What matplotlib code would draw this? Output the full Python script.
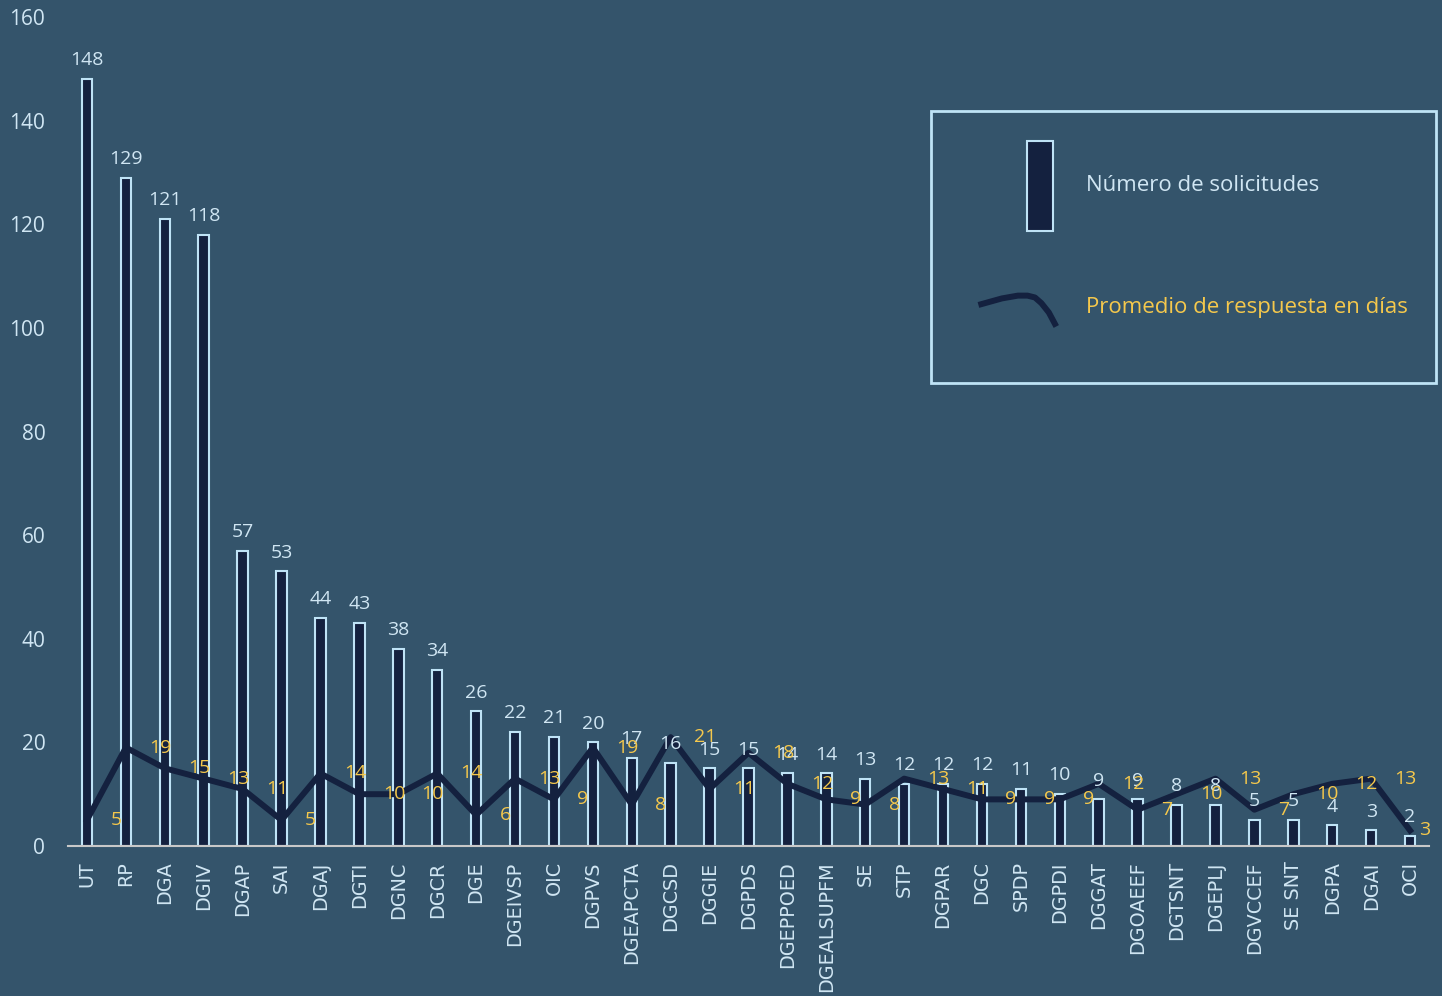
import numpy as np
import matplotlib
matplotlib.use('Agg')
import matplotlib.pyplot as plt
from matplotlib.legend_handler import HandlerBase
from matplotlib.patches import Rectangle
from matplotlib.lines import Line2D

categories = ['UT', 'RP', 'DGA', 'DGIV', 'DGAP', 'SAI', 'DGAJ', 'DGTI', 'DGNC', 'DGCR',
              'DGE', 'DGEIVSP', 'OIC', 'DGPVS', 'DGEAPCTA', 'DGCSD', 'DGGIE', 'DGPDS',
              'DGEPPOED', 'DGEALSUPFM', 'SE', 'STP', 'DGPAR', 'DGC', 'SPDP', 'DGPDI',
              'DGGAT', 'DGOAEEF', 'DGTSNT', 'DGEPLJ', 'DGVCCEF', 'SE SNT', 'DGPA', 'DGAI', 'OCI']
solicitudes = [148, 129, 121, 118, 57, 53, 44, 43, 38, 34, 26, 22, 21, 20, 17, 16, 15, 15,
               14, 14, 13, 12, 12, 12, 11, 10, 9, 9, 8, 8, 5, 5, 4, 3, 2]
promedio_dias = [5, 19, 15, 13, 11, 5, 14, 10, 10, 14, 6, 13, 9, 19, 8, 21, 11, 18,
                 12, 9, 8, 13, 11, 9, 9, 9, 12, 7, 10, 13, 7, 10, 12, 13, 3]
yticks = [0, 20, 40, 60, 80, 100, 120, 140, 160]
legend_labels = ['Número de solicitudes', 'Promedio de respuesta en días']

BG = '#34546b'
NAVY = '#14213f'
EDGE = '#bfe3f6'
TXT = '#d0e6f3'
YEL = '#f5c84c'
AXIS = '#c8c8c8'
FONT = 'Open Sans'

n = len(categories)
x = np.arange(n)

fig = plt.figure(figsize=(14.42, 9.96), dpi=100, facecolor=BG)
ax = fig.add_axes([67.5 / 1442, 150 / 996, 1362 / 1442, 829 / 996])
ax.set_facecolor(BG)

ax.bar(x, solicitudes, width=0.27, color=NAVY, edgecolor=EDGE, linewidth=1.5, zorder=2)
ax.plot(x, promedio_dias, color=NAVY, lw=4.3, zorder=3, solid_joinstyle='round')

ax.set_xlim(-0.5, n - 0.5)
ax.set_ylim(0, 160)
ax.set_yticks(yticks)
ax.set_yticklabels([str(t) for t in yticks], fontfamily=FONT, fontsize=15, color=TXT)
ax.tick_params(axis='y', length=0, pad=16)
ax.set_xticks(x)
ax.set_xticklabels(categories, rotation=90, fontfamily='DejaVu Sans', fontsize=13.8, color=TXT)
ax.tick_params(axis='x', length=0, pad=11)
for s in ['left', 'top', 'right']:
    ax.spines[s].set_visible(False)
ax.spines['bottom'].set_color(AXIS)
ax.spines['bottom'].set_linewidth(1.5)

for i, v in enumerate(solicitudes):
    ax.annotate(str(v), (i, v), xytext=(0, 7), textcoords='offset points', ha='center',
                va='bottom', color=TXT, fontsize=14, fontfamily=FONT, zorder=4)

for i, v in enumerate(promedio_dias):
    xi = min(i + 0.6, n - 1 + 0.23)
    ax.text(xi, v, str(v), ha='left', va='center', color=YEL, fontsize=14,
            fontfamily=FONT, zorder=5)


class BarHandler(HandlerBase):
    def create_artists(self, legend, orig_handle, xdescent, ydescent, width, height, fontsize, trans):
        x0, y0 = -xdescent, -ydescent
        r = Rectangle((x0 + 0.64 * width, y0 + 0.02 * height), 0.24 * width, 0.96 * height,
                      facecolor=NAVY, edgecolor=EDGE, lw=1.5, transform=trans)
        return [r]


class CurveHandler(HandlerBase):
    def create_artists(self, legend, orig_handle, xdescent, ydescent, width, height, fontsize, trans):
        x0, y0 = -xdescent, -ydescent
        fx = [0.18, 0.40, 0.55, 0.64, 0.71, 0.77, 0.84, 0.91]
        fy = [0.53, 0.60, 0.63, 0.63, 0.61, 0.55, 0.45, 0.30]
        ln = Line2D([x0 + a * width for a in fx], [y0 + b * height for b in fy],
                    color=NAVY, lw=4.3, solid_capstyle='butt', solid_joinstyle='round',
                    transform=trans)
        return [ln]


h_bar = Rectangle((0, 0), 1, 1)
h_line = Line2D([0], [0])
leg = ax.legend([h_bar, h_line], legend_labels,
                handler_map={Rectangle: BarHandler(), Line2D: CurveHandler()},
                loc='upper left', bbox_to_anchor=(931 / 1442, (996 - 111) / 996),
                bbox_transform=fig.transFigure, borderaxespad=0,
                prop={'family': FONT, 'size': 16}, fancybox=False,
                borderpad=1.27, handlelength=4.8, handleheight=6.1,
                labelspacing=1.27, handletextpad=0.92)
frame = leg.get_frame()
frame.set_facecolor(BG)
frame.set_edgecolor(EDGE)
frame.set_linewidth(2)
frame.set_alpha(1)
leg.get_texts()[0].set_color(TXT)
leg.get_texts()[1].set_color(YEL)

fig.savefig('out.png', dpi=100, facecolor=BG)
